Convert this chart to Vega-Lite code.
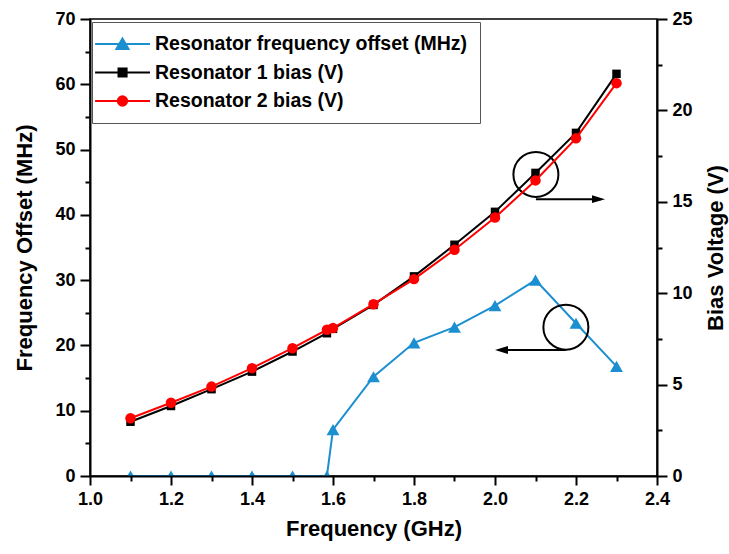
{
  "$schema": "https://vega.github.io/schema/vega-lite/v6.json",
  "width": 567,
  "height": 457,
  "autosize": {"type": "none"},
  "padding": {"left": 90, "top": 19, "right": 72, "bottom": 78},
  "background": "white",
  "config": {
    "font": "Liberation Sans",
    "view": {"stroke": "black", "strokeWidth": 1.5},
    "axis": {
      "labelFont": "Liberation Sans", "labelFontWeight": "bold", "labelFontSize": 18, "labelColor": "black",
      "titleFont": "Liberation Sans", "titleFontWeight": "bold", "titleFontSize": 22, "titleColor": "black",
      "domainColor": "black", "domainWidth": 2, "tickColor": "black", "tickWidth": 2, "grid": false,
      "labelPadding": 5, "labelFlush": false, "labelOverlap": false
    }
  },
  "datasets": {
    "offset": [
      {"f": 1.1, "v": 0, "s": "Resonator frequency offset (MHz)"},
      {"f": 1.2, "v": 0, "s": "Resonator frequency offset (MHz)"},
      {"f": 1.3, "v": 0, "s": "Resonator frequency offset (MHz)"},
      {"f": 1.4, "v": 0, "s": "Resonator frequency offset (MHz)"},
      {"f": 1.5, "v": 0, "s": "Resonator frequency offset (MHz)"},
      {"f": 1.585, "v": 0, "s": "Resonator frequency offset (MHz)"},
      {"f": 1.6, "v": 7.1, "s": "Resonator frequency offset (MHz)"},
      {"f": 1.7, "v": 15.2, "s": "Resonator frequency offset (MHz)"},
      {"f": 1.8, "v": 20.4, "s": "Resonator frequency offset (MHz)"},
      {"f": 1.9, "v": 22.8, "s": "Resonator frequency offset (MHz)"},
      {"f": 2.0, "v": 26.1, "s": "Resonator frequency offset (MHz)"},
      {"f": 2.1, "v": 30.0, "s": "Resonator frequency offset (MHz)"},
      {"f": 2.2, "v": 23.4, "s": "Resonator frequency offset (MHz)"},
      {"f": 2.3, "v": 16.8, "s": "Resonator frequency offset (MHz)"}
    ],
    "r1": [
      {"f": 1.1, "v": 2.97, "s": "Resonator 1 bias (V)"},
      {"f": 1.2, "v": 3.83, "s": "Resonator 1 bias (V)"},
      {"f": 1.3, "v": 4.75, "s": "Resonator 1 bias (V)"},
      {"f": 1.4, "v": 5.71, "s": "Resonator 1 bias (V)"},
      {"f": 1.5, "v": 6.81, "s": "Resonator 1 bias (V)"},
      {"f": 1.585, "v": 7.81, "s": "Resonator 1 bias (V)"},
      {"f": 1.6, "v": 8.05, "s": "Resonator 1 bias (V)"},
      {"f": 1.7, "v": 9.36, "s": "Resonator 1 bias (V)"},
      {"f": 1.8, "v": 10.92, "s": "Resonator 1 bias (V)"},
      {"f": 1.9, "v": 12.65, "s": "Resonator 1 bias (V)"},
      {"f": 2.0, "v": 14.45, "s": "Resonator 1 bias (V)"},
      {"f": 2.1, "v": 16.58, "s": "Resonator 1 bias (V)"},
      {"f": 2.2, "v": 18.77, "s": "Resonator 1 bias (V)"},
      {"f": 2.3, "v": 22.0, "s": "Resonator 1 bias (V)"}
    ],
    "r2": [
      {"f": 1.1, "v": 3.16, "s": "Resonator 2 bias (V)"},
      {"f": 1.2, "v": 4.01, "s": "Resonator 2 bias (V)"},
      {"f": 1.3, "v": 4.89, "s": "Resonator 2 bias (V)"},
      {"f": 1.4, "v": 5.9, "s": "Resonator 2 bias (V)"},
      {"f": 1.5, "v": 6.99, "s": "Resonator 2 bias (V)"},
      {"f": 1.585, "v": 8.0, "s": "Resonator 2 bias (V)"},
      {"f": 1.6, "v": 8.09, "s": "Resonator 2 bias (V)"},
      {"f": 1.7, "v": 9.4, "s": "Resonator 2 bias (V)"},
      {"f": 1.8, "v": 10.77, "s": "Resonator 2 bias (V)"},
      {"f": 1.9, "v": 12.38, "s": "Resonator 2 bias (V)"},
      {"f": 2.0, "v": 14.14, "s": "Resonator 2 bias (V)"},
      {"f": 2.1, "v": 16.17, "s": "Resonator 2 bias (V)"},
      {"f": 2.2, "v": 18.47, "s": "Resonator 2 bias (V)"},
      {"f": 2.3, "v": 21.49, "s": "Resonator 2 bias (V)"}
    ],
    "circles": [
      {"f": 2.101, "v": 46.2},
      {"f": 2.175, "v": 22.8}
    ],
    "arrows": [
      {"f": 2.101, "f2": 2.262, "v": 42.4},
      {"f": 2.175, "f2": 2.01, "v": 19.3}
    ],
    "headR": [{"f": 2.2556, "v": 42.4}],
    "headL": [{"f": 2.016, "v": 19.3}]
  },
  "encoding": {
    "x": {
      "field": "f", "type": "quantitative",
      "scale": {"domain": [1.0, 2.4], "nice": false, "zero": false},
      "axis": {
        "title": "Frequency (GHz)",
        "values": [1.0, 1.1, 1.2, 1.3, 1.4, 1.5, 1.6, 1.7, 1.8, 1.9, 2.0, 2.1, 2.2, 2.3, 2.4],
        "labelExpr": "round(datum.value*10) % 2 === 0 ? format(datum.value, '.1f') : ''",
        "tickSize": {"condition": {"test": "round(datum.value*10) % 2 === 0", "value": 9}, "value": 5},
        "titlePadding": 10,
        "zindex": 1
      }
    }
  },
  "layer": [
    {
      "encoding": {
        "y": {
          "field": "v", "type": "quantitative",
          "scale": {"domain": [0, 70], "nice": false, "zero": false},
          "axis": {
            "title": "Frequency Offset (MHz)", "orient": "left",
            "values": [0, 5, 10, 15, 20, 25, 30, 35, 40, 45, 50, 55, 60, 65, 70],
            "labelExpr": "datum.value % 10 === 0 ? datum.label : ''",
            "tickSize": {"condition": {"test": "datum.value % 10 === 0", "value": 10}, "value": 5},
            "titlePadding": 18
          }
        }
      },
      "layer": [
        {
          "data": {"name": "offset"},
          "mark": {"type": "point", "opacity": 0, "filled": true, "size": 100},
          "encoding": {
            "fill": {
              "field": "s", "type": "nominal",
              "scale": {"domain": ["Resonator frequency offset (MHz)", "Resonator 1 bias (V)", "Resonator 2 bias (V)"], "range": ["#1b8fcf", "#000000", "#ff0000"]},
              "legend": {
                "title": null, "orient": "none", "legendX": 2, "legendY": 3,
                "padding": 12, "fillColor": "white", "strokeColor": "#555555",
                "symbolSize": 324, "symbolStrokeWidth": 2, "symbolOpacity": 1, "labelOffset": 31, "rowPadding": 8.5,
                "labelFont": "Liberation Sans", "labelFontSize": 19.5, "labelFontWeight": "bold", "labelColor": "black", "labelLimit": 400
              }
            },
            "stroke": {
              "field": "s", "type": "nominal",
              "scale": {"domain": ["Resonator frequency offset (MHz)", "Resonator 1 bias (V)", "Resonator 2 bias (V)"], "range": ["#1b8fcf", "#000000", "#ff0000"]},
              "legend": {
                "title": null, "orient": "none", "legendX": 2, "legendY": 3,
                "padding": 12, "fillColor": "white", "strokeColor": "#555555",
                "symbolSize": 324, "symbolStrokeWidth": 2, "symbolOpacity": 1, "labelOffset": 31, "rowPadding": 8.5,
                "labelFont": "Liberation Sans", "labelFontSize": 19.5, "labelFontWeight": "bold", "labelColor": "black", "labelLimit": 400
              }
            },
            "shape": {
              "field": "s", "type": "nominal",
              "scale": {"domain": ["Resonator frequency offset (MHz)", "Resonator 1 bias (V)", "Resonator 2 bias (V)"], "range": ["M-2.1,0H4M0.94,-0.62L1.61,0.55L0.27,0.55Z", "M-2.1,0H4M0.5,-0.45H1.4V0.45H0.5Z", "M-2.1,0H4M0.42,0A0.52,0.52,0,1,0,1.46,0A0.52,0.52,0,1,0,0.42,0Z"]},
              "legend": {
                "title": null, "orient": "none", "legendX": 2, "legendY": 3,
                "padding": 12, "fillColor": "white", "strokeColor": "#555555",
                "symbolSize": 324, "symbolStrokeWidth": 2, "symbolOpacity": 1, "labelOffset": 31, "rowPadding": 8.5,
                "labelFont": "Liberation Sans", "labelFontSize": 19.5, "labelFontWeight": "bold", "labelColor": "black", "labelLimit": 400
              }
            }
          }
        },
        {
          "data": {"name": "offset"},
          "mark": {"type": "line", "stroke": "#1b8fcf", "strokeWidth": 2, "clip": true},
          "encoding": {}
        },
        {
          "data": {"name": "offset"},
          "mark": {"type": "point", "shape": "triangle-up", "filled": true, "fill": "#1b8fcf", "opacity": 1, "size": 165, "clip": true},
          "encoding": {}
        },
        {
          "data": {"name": "circles"},
          "mark": {"type": "point", "shape": "circle", "filled": false, "stroke": "black", "strokeWidth": 2, "size": 2025, "opacity": 1},
          "encoding": {}
        },
        {
          "data": {"name": "arrows"},
          "mark": {"type": "rule", "stroke": "black", "strokeWidth": 2},
          "encoding": {"x2": {"field": "f2"}}
        },
        {
          "data": {"name": "headR"},
          "mark": {"type": "point", "shape": "M1,0L-1,-0.6L-1,0.6Z", "filled": true, "fill": "black", "size": 169, "opacity": 1},
          "encoding": {}
        },
        {
          "data": {"name": "headL"},
          "mark": {"type": "point", "shape": "M-1,0L1,-0.6L1,0.6Z", "filled": true, "fill": "black", "size": 169, "opacity": 1},
          "encoding": {}
        }
      ]
    },
    {
      "encoding": {
        "y": {
          "field": "v", "type": "quantitative",
          "scale": {"domain": [0, 25], "nice": false, "zero": false},
          "axis": {
            "title": "Bias Voltage (V)", "orient": "right",
            "values": [0, 2.5, 5, 7.5, 10, 12.5, 15, 17.5, 20, 22.5, 25],
            "labelExpr": "datum.value % 5 === 0 ? datum.label : ''",
            "tickSize": {"condition": {"test": "datum.value % 5 === 0", "value": 10}, "value": 5},
            "titleAngle": -90, "titleBaseline": "top",
            "titlePadding": 13
          }
        }
      },
      "layer": [
        {
          "data": {"name": "r1"},
          "mark": {"type": "line", "stroke": "#000000", "strokeWidth": 2},
          "encoding": {}
        },
        {
          "data": {"name": "r1"},
          "mark": {"type": "point", "shape": "square", "filled": true, "fill": "#000000", "opacity": 1, "size": 72},
          "encoding": {}
        },
        {
          "data": {"name": "r2"},
          "mark": {"type": "line", "stroke": "#ff0000", "strokeWidth": 2},
          "encoding": {}
        },
        {
          "data": {"name": "r2"},
          "mark": {"type": "point", "shape": "circle", "filled": true, "fill": "#ff0000", "opacity": 1, "size": 110},
          "encoding": {}
        }
      ]
    }
  ],
  "resolve": {"scale": {"y": "independent"}}
}
